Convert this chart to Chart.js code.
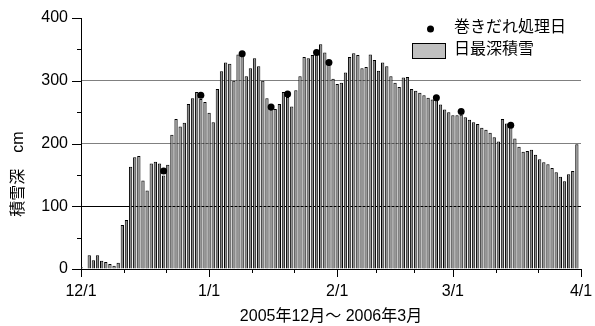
<!DOCTYPE html>
<html><head><meta charset="utf-8">
<script src="https://cdn.jsdelivr.net/npm/chart.js@4.4.1/dist/chart.umd.min.js"></script>
<style>html,body{margin:0;padding:0;background:#fff;}#wrap{width:595px;height:326px;position:relative;}</style>
</head><body><div id="wrap"><canvas id="c" width="595" height="326"></canvas></div>
<script>
// ---- data ----
const startDate = '2005-12-01';
const snowDepth = [
  3,0,22,14,22,13,11,8,5,10,
  70,78,163,178,180,141,125,168,171,168,
  149,166,214,239,227,233,263,272,282,271,
  266,249,234,287,315,329,327,300,342,339,
  307,320,336,323,300,272,254,255,263,282,
  274,259,285,307,338,336,341,348,358,345,
  325,303,295,297,313,338,344,341,320,322,
  342,333,316,329,323,307,297,290,305,306,
  287,284,281,277,273,270,270,262,254,250,
  245,245,246,242,238,234,231,225,222,217,
  210,203,239,232,231,208,195,187,188,190,
  182,175,170,167,161,154,147,140,151,156,
  199
];
const treatDates = ['2005-12-21','2005-12-30','2006-01-09','2006-01-16','2006-01-20','2006-01-27','2006-01-30','2006-02-25','2006-03-03','2006-03-15'];
const treatDepth = [156,277,343,258,279,345,329,273,251,229];
const monthTickDates = ['2005-12-01','2006-01-01','2006-02-01','2006-03-01','2006-04-01'];
const monthTickLabels = ['12/1','1/1','2/1','3/1','4/1'];
const yTicks = [0,100,200,300,400];
const yMinorTicks = [50,150,250,350];
const seriesNames = ['巻きだれ処理日','日最深積雪'];
const xTitle = '2005年12月～ 2006年3月';
const yTitle = '積雪深　cm';

// ---- helpers ----
function dayIndex(s){
  const p = s.split('-').map(Number), q = startDate.split('-').map(Number);
  return Math.round((Date.UTC(p[0],p[1]-1,p[2]) - Date.UTC(q[0],q[1]-1,q[2]))/86400000);
}
const majorX = monthTickDates.map(dayIndex);
const minorX = [];
for (let i=0;i<majorX.length-1;i++){ const a=majorX[i], b=majorX[i+1]; minorX.push(a+(b-a)/3, a+2*(b-a)/3); }

const FONT = "'Liberation Sans', Arial, 'Noto Sans CJK JP', sans-serif";
Chart.defaults.font.family = FONT;
Chart.defaults.font.size = 16;
Chart.defaults.color = '#000';

const tickPlugin = {
  id:'ticks',
  afterDraw(chart){
    const c = chart.ctx, xs = chart.scales.x, ys = chart.scales.y;
    const bottom = ys.getPixelForValue(0), left = xs.getPixelForValue(0);
    c.save(); c.strokeStyle='#000'; c.lineWidth=1;
    c.beginPath();
    majorX.forEach(v=>{ const px=Math.round(xs.getPixelForValue(v))+0.5; c.moveTo(px,bottom); c.lineTo(px,bottom+8); });
    minorX.forEach(v=>{ const px=Math.round(xs.getPixelForValue(v))+0.5; c.moveTo(px,bottom); c.lineTo(px,bottom+4); });
    yTicks.forEach(v=>{ const py=Math.round(ys.getPixelForValue(v))+0.5; c.moveTo(left,py); c.lineTo(left-9,py); });
    yMinorTicks.forEach(v=>{ const py=Math.round(ys.getPixelForValue(v))+0.5; c.moveTo(left,py); c.lineTo(left-4,py); });
    c.stroke();
    // y title
    c.fillStyle = '#000'; c.font = '16px ' + FONT;
    c.save(); c.translate(19, 174); c.rotate(-Math.PI/2);
    c.textAlign='center'; c.textBaseline='middle'; c.fillText(yTitle, 0, 0); c.restore();
    // legend
    const ds0 = chart.data.datasets[0], ds1 = chart.data.datasets[1];
    c.fillStyle = ds0.backgroundColor;
    c.beginPath(); c.arc(430.5, 29, 3.5, 0, Math.PI*2); c.fill();
    c.fillStyle = '#c0c0c0'; c.fillRect(412.5, 43.5, 33, 15);
    c.strokeStyle = ds1.borderColor; c.strokeRect(412.5, 43.5, 33, 15);
    c.fillStyle = '#000'; c.textBaseline='middle'; c.textAlign='left';
    c.fillText(ds0.label, 454, 28);
    c.fillText(ds1.label, 454, 50);
    c.restore();
  }
};

new Chart(document.getElementById('c'), {
  type:'bar',
  data:{ datasets:[
    { type:'scatter', label:seriesNames[0], data:treatDates.map((d,i)=>({x:dayIndex(d), y:treatDepth[i]})),
      backgroundColor:'#000', borderColor:'#000', pointRadius:3.5, pointBorderWidth:0, order:0 },
    { type:'bar', label:seriesNames[1], data:snowDepth.map((v,i)=>({x:i, y:v})),
      backgroundColor:'#8c8c8c', borderColor:'#000', borderWidth:1, barPercentage:0.8, categoryPercentage:1, order:1 }
  ]},
  options:{
    responsive:false, animation:false,
    layout:{padding:{left:0,right:14,top:18,bottom:0}},
    plugins:{legend:{display:false}, tooltip:{enabled:false}},
    scales:{
      x:{ type:'linear', min:0, max:121, offset:false,
        afterBuildTicks: s => { s.ticks = majorX.map(v=>({value:v})); },
        ticks:{ autoSkip:false, maxRotation:0, padding:13,
          callback: v => { const k = majorX.indexOf(v); return k>=0 ? monthTickLabels[k] : ''; } },
        grid:{ display:false, drawTicks:false },
        border:{ color:'#000', width:1 },
        title:{ display:true, text:xTitle, padding:{top:2,bottom:0} },
        afterFit: s => { s.height = 57; s.paddingLeft = 0; s.paddingRight = 0; }
      },
      y:{ min:0, max:400,
        afterBuildTicks: s => { s.ticks = yTicks.map(v=>({value:v})); },
        ticks:{ padding:13 },
        grid:{ drawTicks:false, lineWidth:1,
          color: ctx => { const v = ctx.tick ? ctx.tick.value : null; if (v===100) return '#000'; if (v===200||v===300) return '#808080'; return 'rgba(0,0,0,0)'; } },
        border:{ color:'#000', width:1 },
        title:{ display:false },
        afterFit: s => { s.width = 81; s.paddingTop = 0; s.paddingBottom = 0; }
      }
    }
  },
  plugins:[tickPlugin]
});
</script></body></html>
